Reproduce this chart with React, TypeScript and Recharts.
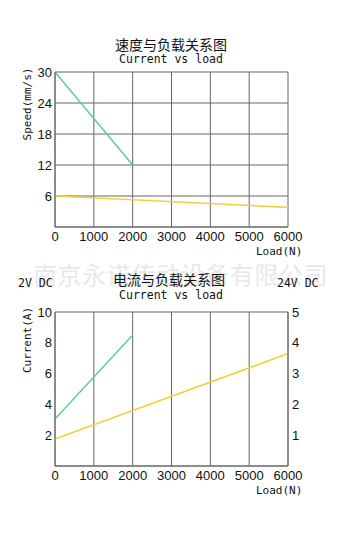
import React from 'react';
import { LineChart, Line, XAxis, YAxis, CartesianGrid } from 'recharts';

const loadTicks = [0, 1000, 2000, 3000, 4000, 5000, 6000];
const speedTicks = [0, 6, 12, 18, 24, 30];
const currentTicks = [0, 2, 4, 6, 8, 10];
const current24Ticks = [0, 1, 2, 3, 4, 5];

// speed vs load
const speed12vLoad = [0, 2000];
const speed12v = [30, 12];
const speed24vLoad = [0, 6000];
const speed24v = [6, 3.8];

// current vs load
const current12vLoad = [0, 2000];
const current12v = [3.05, 8.5];
const current24vLoad = [0, 6000];
const current24v = [0.88, 3.65];

const toRows = (xs: number[], ys: number[]) => xs.map((x, i) => ({ load: x, value: ys[i] }));

const GREEN = '#5acd8e';
const YELLOW = '#f2cf3c';
const GRID = '#666';
const tickFont = { fontSize: 13, fill: '#111', fontFamily: 'Liberation Sans, Arial, sans-serif' };
const mono = '"DejaVu Sans Mono", monospace';
const cjk = '"Noto Sans CJK SC", sans-serif';

const abs = (left: number, top: number, extra: React.CSSProperties = {}): React.CSSProperties => ({
  position: 'absolute', left, top, whiteSpace: 'nowrap', lineHeight: 1, ...extra,
});

const hideZero = (v: number) => (v === 0 ? '' : String(v));

export default function App() {
  return (
    <div style={{ position: 'absolute', left: 0, top: 0, width: 361, height: 541, background: '#fff', overflow: 'hidden' }}>
      {/* watermark */}
      <div style={abs(33, 262, { fontFamily: cjk, fontSize: 24, color: '#e8e8e8', letterSpacing: 0.6 })}>南京永诺传动设备有限公司</div>

      {/* top chart */}
      <div style={abs(0, 37, { width: 342, textAlign: 'center', fontFamily: cjk, fontSize: 14, color: '#111' })}>速度与负载关系图</div>
      <div style={abs(0, 54, { width: 342, textAlign: 'center', fontFamily: mono, fontSize: 11.5, color: '#111' })}>Current vs load</div>
      <div style={abs(27, 104, { fontFamily: mono, fontSize: 11, color: '#111', transform: 'translate(-50%, -50%) rotate(-90deg)' })}>Speed(mm/s)</div>
      <div style={abs(256, 246, { fontFamily: mono, fontSize: 11, color: '#111' })}>Load(N)</div>
      <div style={abs(0, 0)}>
        <LineChart width={361} height={260} margin={{ top: 72, right: 73, left: 0, bottom: 0 }}>
          <CartesianGrid stroke={GRID} />
          <XAxis type="number" dataKey="load" domain={[0, 6000]} ticks={loadTicks} height={33}
            tickLine={false} tickSize={0} tickMargin={5} stroke={GRID} tick={tickFont} interval={0} />
          <YAxis type="number" domain={[0, 30]} ticks={speedTicks} width={55} tickFormatter={hideZero}
            tickLine={false} tickSize={0} tickMargin={3} stroke={GRID} tick={tickFont} interval={0} />
          <Line data={toRows(speed12vLoad, speed12v)} dataKey="value" stroke={GREEN} strokeWidth={1.4} dot={false} isAnimationActive={false} />
          <Line data={toRows(speed24vLoad, speed24v)} dataKey="value" stroke={YELLOW} strokeWidth={1.6} dot={false} isAnimationActive={false} />
        </LineChart>
      </div>

      {/* bottom chart */}
      <div style={abs(18, 278, { fontFamily: mono, fontSize: 11.5, color: '#111' })}>2V DC</div>
      <div style={abs(277, 278, { fontFamily: mono, fontSize: 11.5, color: '#111' })}>24V DC</div>
      <div style={abs(0, 272, { width: 338, textAlign: 'center', fontFamily: cjk, fontSize: 14, color: '#111' })}>电流与负载关系图</div>
      <div style={abs(0, 290, { width: 342, textAlign: 'center', fontFamily: mono, fontSize: 11.5, color: '#111' })}>Current vs load</div>
      <div style={abs(27, 340, { fontFamily: mono, fontSize: 11, color: '#111', transform: 'translate(-50%, -50%) rotate(-90deg)' })}>Current(A)</div>
      <div style={abs(256, 485, { fontFamily: mono, fontSize: 11, color: '#111' })}>Load(N)</div>
      <div style={abs(0, 260)}>
        <LineChart width={361} height={281} margin={{ top: 52, right: 0, left: 0, bottom: 0 }}>
          <CartesianGrid stroke={GRID} />
          <XAxis type="number" dataKey="load" domain={[0, 6000]} ticks={loadTicks} height={75}
            tickLine={false} tickSize={0} tickMargin={5} stroke={GRID} tick={tickFont} interval={0} />
          <YAxis yAxisId="left" type="number" domain={[0, 10]} ticks={currentTicks} width={55} tickFormatter={hideZero}
            tickLine={false} tickSize={0} tickMargin={3} stroke={GRID} tick={tickFont} interval={0} />
          <YAxis yAxisId="right" orientation="right" type="number" domain={[0, 5]} ticks={current24Ticks} width={73} tickFormatter={hideZero}
            tickLine={false} tickSize={0} tickMargin={4} stroke={GRID} tick={tickFont} interval={0} />
          <Line yAxisId="left" data={toRows(current12vLoad, current12v)} dataKey="value" stroke={GREEN} strokeWidth={1.4} dot={false} isAnimationActive={false} />
          <Line yAxisId="right" data={toRows(current24vLoad, current24v)} dataKey="value" stroke={YELLOW} strokeWidth={1.6} dot={false} isAnimationActive={false} />
        </LineChart>
      </div>
    </div>
  );
}
